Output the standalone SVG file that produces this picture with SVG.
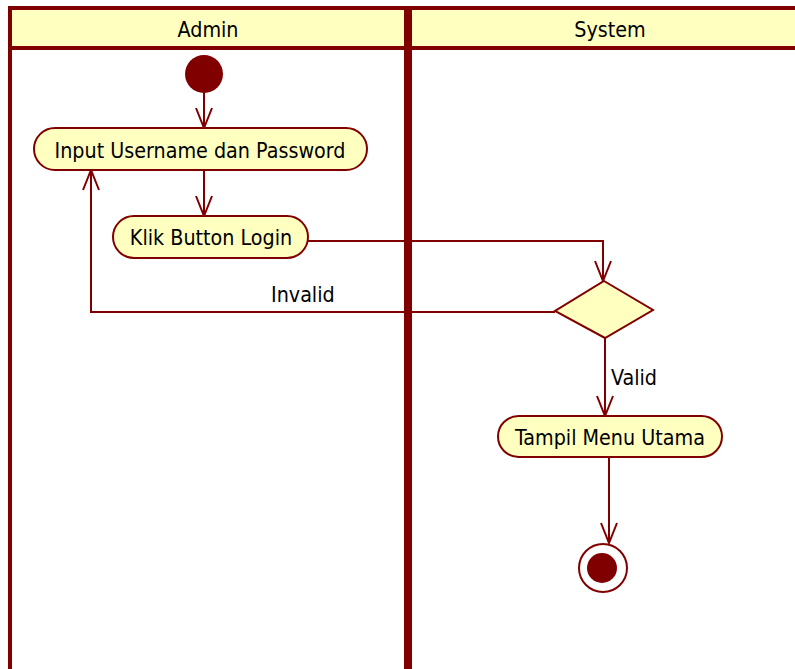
<svg xmlns="http://www.w3.org/2000/svg" width="795" height="669" viewBox="0 0 795 669">
  <style>
    .lane { fill: none; stroke: #800000; stroke-width: 4; }
    .head { fill: #FFFFC0; stroke: #800000; stroke-width: 4; }
    .node { fill: #FFFFC0; stroke: #800000; stroke-width: 2; }
    .edge { fill: none; stroke: #800000; stroke-width: 2; marker-end: url(#open); }
    text { font-family: "DejaVu Sans Condensed", "DejaVu Sans", sans-serif; font-stretch: condensed; font-size: 21.3px; fill: #000000; }
    .c { text-anchor: middle; }
  </style>
  <defs>
    <marker id="open" markerUnits="userSpaceOnUse" markerWidth="24" markerHeight="20" viewBox="-22 -10 24 20" refX="0" refY="0" orient="auto">
      <path d="M-20,-8 L0,0 L-20,8" fill="none" stroke="#800000" stroke-width="2"/>
    </marker>
  </defs>
  <rect width="795" height="669" fill="#ffffff"/>

  <!-- connectors -->
  <g id="connectors">
    <path class="edge" d="M204,93 V128"/>
    <path class="edge" d="M204,170 V216"/>
    <path class="edge" d="M308,241 H603 V281"/>
    <path class="edge" d="M555,312 H91 V170"/>
    <text x="271" y="302">Invalid</text>
    <path class="edge" d="M605,338 V416"/>
    <text x="611" y="385">Valid</text>
    <path class="edge" d="M609,457 V543"/>
  </g>

  <!-- swimlanes -->
  <g id="lane-admin">
    <rect class="head" x="10" y="8" width="396" height="40"/>
    <path class="lane" d="M10,48 V669 M406,48 V669"/>
    <text class="c" x="208" y="37">Admin</text>
  </g>
  <g id="lane-system">
    <rect class="head" x="410" y="8" width="400" height="40"/>
    <path class="lane" d="M410,48 V669"/>
    <text class="c" x="610" y="37">System</text>
  </g>

  <!-- nodes -->
  <g id="start">
    <circle cx="204" cy="74" r="19" fill="#800000"/>
  </g>
  <g id="input-credentials">
    <rect class="node" x="34" y="128" width="333" height="42" rx="21"/>
    <text class="c" x="200" y="158">Input Username dan Password</text>
  </g>
  <g id="click-login">
    <rect class="node" x="113" y="216" width="195" height="42" rx="21"/>
    <text class="c" x="211" y="245">Klik Button Login</text>
  </g>
  <g id="decision">
    <polygon class="node" points="604,281 653,310 605,338 555,311"/>
  </g>
  <g id="main-menu">
    <rect class="node" x="498" y="416" width="224" height="41" rx="20.5"/>
    <text class="c" x="610" y="445">Tampil Menu Utama</text>
  </g>
  <g id="end">
    <circle cx="603" cy="568" r="24" fill="#ffffff" stroke="#800000" stroke-width="2"/>
    <circle cx="602" cy="568" r="15" fill="#800000"/>
  </g>
</svg>
